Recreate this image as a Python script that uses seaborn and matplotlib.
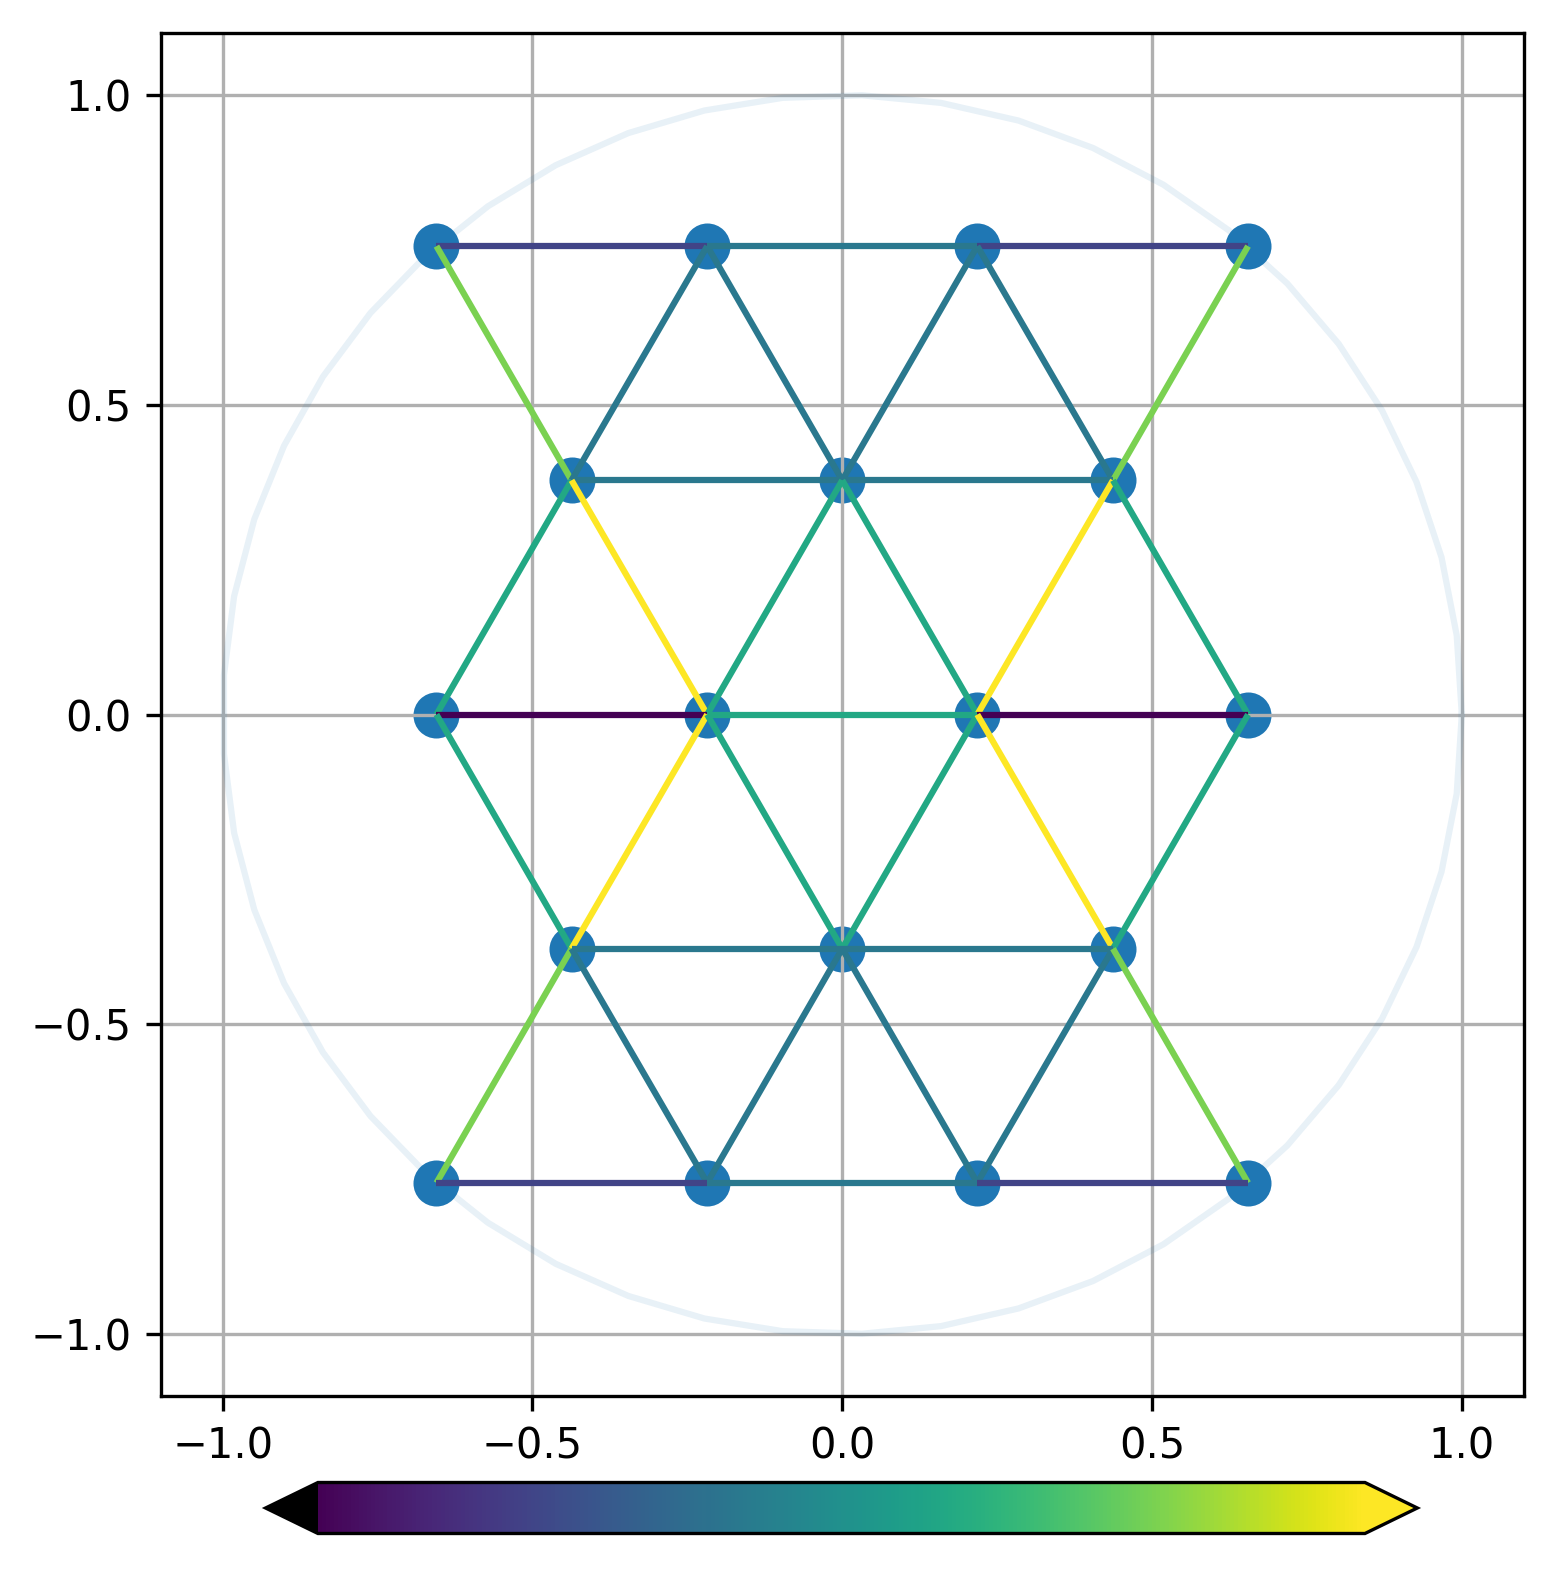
import numpy as np
import matplotlib
matplotlib.use("Agg")
import matplotlib.pyplot as plt
from matplotlib.collections import LineCollection
from matplotlib.ticker import MultipleLocator
import seaborn as sns

# lattice sites
node_x = [-0.655, -0.218, 0.218, 0.655,
          -0.437, 0.0, 0.437,
          -0.655, -0.218, 0.218, 0.655,
          -0.437, 0.0, 0.437,
          -0.655, -0.218, 0.218, 0.655]
node_y = [0.756, 0.756, 0.756, 0.756,
          0.378, 0.378, 0.378,
          0.0, 0.0, 0.0, 0.0,
          -0.378, -0.378, -0.378,
          -0.756, -0.756, -0.756, -0.756]

# bonds between sites and their colour value
edge_i = [0, 1, 2, 0, 1, 1, 2, 2, 3, 4, 5,
          4, 4, 5, 5, 6, 6, 7, 8, 9,
          7, 8, 8, 9, 9, 10, 11, 12,
          11, 11, 12, 12, 13, 13, 14, 15, 16]
edge_j = [1, 2, 3, 4, 4, 5, 5, 6, 6, 5, 6,
          7, 8, 8, 9, 9, 10, 8, 9, 10,
          11, 11, 12, 12, 13, 13, 12, 13,
          14, 15, 15, 16, 16, 17, 15, 16, 17]
edge_value = [0.2, 0.4, 0.2, 0.8, 0.4, 0.4, 0.4, 0.4, 0.8, 0.4, 0.4,
              0.6, 1.0, 0.6, 0.6, 1.0, 0.6, 0.0, 0.6, 0.0,
              0.6, 1.0, 0.6, 0.6, 1.0, 0.6, 0.4, 0.4,
              0.8, 0.4, 0.4, 0.4, 0.4, 0.8, 0.2, 0.4, 0.2]

# unit circle guide
circle_radius = 1.0
n_circle = 50

theta = np.linspace(0, 2 * np.pi, n_circle)
circ_x = circle_radius * np.cos(theta)
circ_y = circle_radius * np.sin(theta)

fig = plt.figure(figsize=(1558 / 300, 1569 / 300), dpi=300)
ax = fig.add_axes([0.10302, 0.11026, 0.87516, 0.86870])

sns.lineplot(x=circ_x, y=circ_y, sort=False, estimator=None, color='C0',
             alpha=0.1, linewidth=1.5, ax=ax)
sns.scatterplot(x=node_x, y=node_y, color='C0', s=122, linewidth=0, ax=ax)

segs = [[(node_x[i], node_y[i]), (node_x[j], node_y[j])] for i, j in zip(edge_i, edge_j)]
cmap = plt.get_cmap('viridis').copy()
cmap.set_under('black')
lc = LineCollection(segs, cmap=cmap, norm=plt.Normalize(0, 1), linewidths=1.5)
lc.set_array(np.array(edge_value))
ax.add_collection(lc)

ax.set_xlim(-1.1, 1.1)
ax.set_ylim(-1.1, 1.1)
ax.xaxis.set_major_locator(MultipleLocator(0.5))
ax.yaxis.set_major_locator(MultipleLocator(0.5))
ax.set_aspect('equal')
ax.grid(True)

cax = fig.add_axes([0.17048, 0.02263, 0.73922, 0.0325])
cb = fig.colorbar(lc, cax=cax, orientation='horizontal', extend='both')
cb.set_ticks([])

fig.savefig('out.png', dpi=300)
